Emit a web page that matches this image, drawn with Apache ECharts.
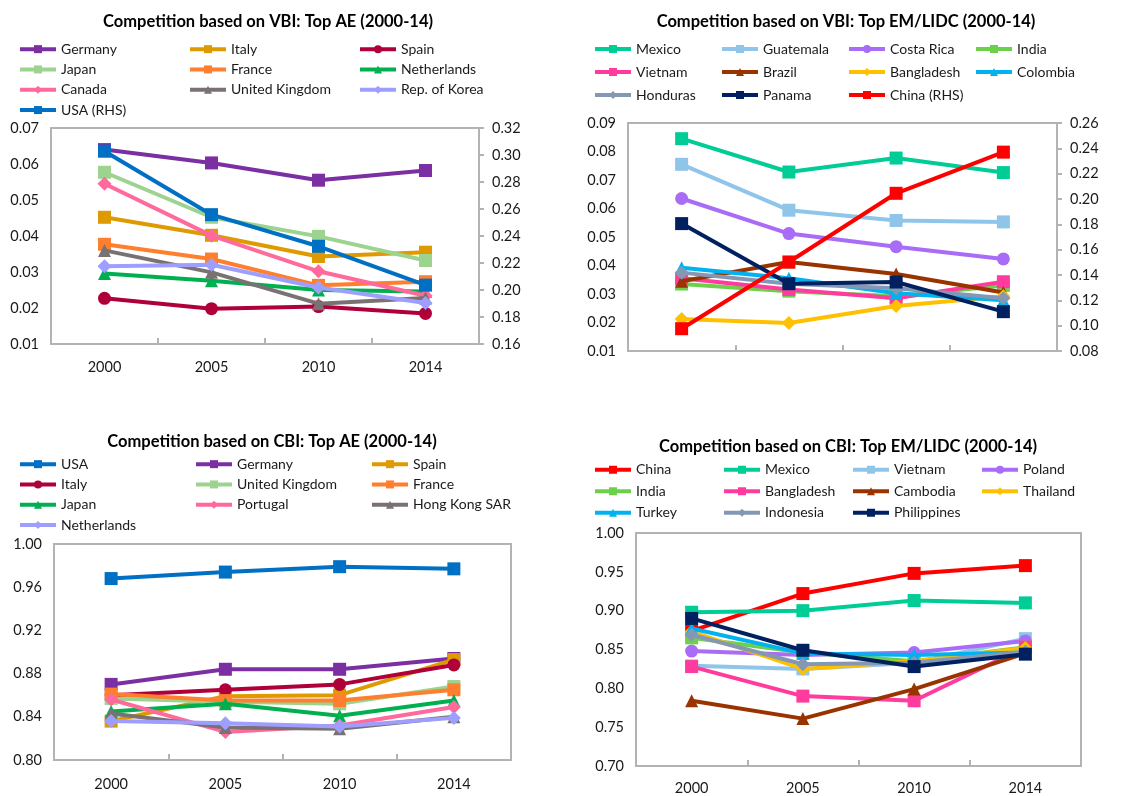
<!DOCTYPE html>
<html>
<head>
<meta charset="utf-8">
<script src="https://cdn.jsdelivr.net/npm/echarts@6/dist/echarts.min.js"></script>
<style>
  html, body { margin: 0; padding: 0; background: #fff; }
  #wrap { position: relative; width: 1144px; height: 796px; }
  .panel { position: absolute; }
</style>
</head>
<body>
<div id="wrap">
  <div id="p1" class="panel" style="left:0;top:0;width:572px;height:405px"></div>
  <div id="p2" class="panel" style="left:572px;top:0;width:572px;height:405px"></div>
  <div id="p3" class="panel" style="left:0;top:405px;width:572px;height:391px"></div>
  <div id="p4" class="panel" style="left:572px;top:405px;width:572px;height:391px"></div>
</div>
<script>
const years = ['2000', '2005', '2010', '2014'];

// VBI, top advanced economies (USA on the right-hand axis)
const vbiAeNames = ['Germany', 'Italy', 'Spain', 'Japan', 'France', 'Netherlands', 'Canada', 'United Kingdom', 'Rep. of Korea', 'USA (RHS)'];
const vbiAeValues = [
  [0.0640, 0.0603, 0.0555, 0.0582],
  [0.0452, 0.0402, 0.0343, 0.0355],
  [0.0227, 0.0198, 0.0204, 0.0185],
  [0.0577, 0.0452, 0.0399, 0.0332],
  [0.0377, 0.0336, 0.0263, 0.0273],
  [0.0296, 0.0276, 0.0250, 0.0246],
  [0.0545, 0.0401, 0.0302, 0.0234],
  [0.0360, 0.0299, 0.0212, 0.0228],
  [0.0316, 0.0320, 0.0257, 0.0214],
  [0.3028, 0.2558, 0.2324, 0.2036]
];
const vbiAeRhs = ['USA (RHS)'];

// VBI, top emerging / low-income economies (China on the right-hand axis)
const vbiEmNames = ['Mexico', 'Guatemala', 'Costa Rica', 'India', 'Vietnam', 'Brazil', 'Bangladesh', 'Colombia', 'Honduras', 'Panama', 'China (RHS)'];
const vbiEmValues = [
  [0.0845, 0.0728, 0.0777, 0.0726],
  [0.0755, 0.0594, 0.0558, 0.0553],
  [0.0635, 0.0512, 0.0466, 0.0423],
  [0.0335, 0.0310, 0.0292, 0.0330],
  [0.0355, 0.0316, 0.0285, 0.0343],
  [0.0345, 0.0412, 0.0370, 0.0305],
  [0.0212, 0.0198, 0.0258, 0.0292],
  [0.0392, 0.0355, 0.0303, 0.0278],
  [0.0375, 0.0336, 0.0320, 0.0285],
  [0.0547, 0.0336, 0.0342, 0.0238],
  [0.0976, 0.1503, 0.2045, 0.2370]
];
const vbiEmRhs = ['China (RHS)'];

// CBI, top advanced economies
const cbiAeNames = ['USA', 'Germany', 'Spain', 'Italy', 'United Kingdom', 'France', 'Japan', 'Portugal', 'Hong Kong SAR', 'Netherlands'];
const cbiAeValues = [
  [0.968, 0.974, 0.979, 0.977],
  [0.870, 0.884, 0.884, 0.894],
  [0.836, 0.859, 0.860, 0.893],
  [0.860, 0.865, 0.870, 0.888],
  [0.857, 0.854, 0.852, 0.868],
  [0.861, 0.855, 0.855, 0.865],
  [0.845, 0.852, 0.841, 0.855],
  [0.856, 0.826, 0.832, 0.849],
  [0.843, 0.830, 0.829, 0.840],
  [0.836, 0.834, 0.831, 0.839]
];

// CBI, top emerging / low-income economies
const cbiEmNames = ['China', 'Mexico', 'Vietnam', 'Poland', 'India', 'Bangladesh', 'Cambodia', 'Thailand', 'Turkey', 'Indonesia', 'Philippines'];
const cbiEmValues = [
  [0.874, 0.922, 0.948, 0.958],
  [0.898, 0.900, 0.913, 0.910],
  [0.829, 0.825, 0.833, 0.864],
  [0.848, 0.843, 0.846, 0.861],
  [0.865, 0.846, 0.835, 0.853],
  [0.828, 0.790, 0.784, 0.853],
  [0.784, 0.761, 0.799, 0.845],
  [0.873, 0.825, 0.835, 0.852],
  [0.877, 0.845, 0.843, 0.846],
  [0.869, 0.831, 0.833, 0.847],
  [0.890, 0.849, 0.828, 0.844]
];

// line colours and marker shapes for each panel
const vbiAeColors = ['#7B2FA2', '#DE9A00', '#B0003A', '#9BD38F', '#FF7F2E', '#00B050', '#FF6A9C', '#7A7272', '#9E9EFF', '#0070C4'];
const vbiAeSymbols = ['rect', 'rect', 'circle', 'rect', 'rect', 'triangle', 'diamond', 'triangle', 'diamond', 'rect'];
const vbiEmColors = ['#00CC96', '#90C5EA', '#A96CF6', '#6CD04A', '#FF3C9E', '#993300', '#FFC000', '#00B2F0', '#8498B4', '#00205F', '#FF0000'];
const vbiEmSymbols = ['rect', 'rect', 'circle', 'rect', 'rect', 'triangle', 'diamond', 'triangle', 'diamond', 'rect', 'rect'];
const cbiAeColors = ['#0070C4', '#7B2FA2', '#DE9A00', '#B0003A', '#9BD38F', '#FF7F2E', '#00B050', '#FF6A9C', '#7A7272', '#9E9EFF'];
const cbiAeSymbols = ['rect', 'rect', 'rect', 'circle', 'rect', 'rect', 'triangle', 'diamond', 'triangle', 'diamond'];
const cbiEmColors = ['#FF0000', '#00CC96', '#90C5EA', '#A96CF6', '#6CD04A', '#FF3C9E', '#993300', '#FFC000', '#00B2F0', '#8498B4', '#00205F'];
const cbiEmSymbols = ['rect', 'rect', 'rect', 'circle', 'rect', 'rect', 'triangle', 'diamond', 'triangle', 'diamond', 'rect'];

const FONT = 'Lato, "Open Sans", sans-serif';
const AXIS_GREY = '#B3B3B3';
const fmt2 = v => v.toFixed(2);

function symbolSize(s) {
  return s === 'diamond' ? 14 : 13;
}

function valueAxis(min, max, interval, side) {
  return {
    type: 'value', position: side, min: min, max: max, interval: interval,
    splitLine: { show: false },
    axisLine: { show: true, lineStyle: { color: AXIS_GREY, width: 2 } },
    axisTick: { show: side === 'right', length: 5, lineStyle: { color: AXIS_GREY, width: 2 } },
    axisLabel: { formatter: fmt2, fontFamily: FONT, fontSize: 14.5, color: '#1a1a1a', margin: side === 'right' ? 13 : 12 }
  };
}

function buildPanel(el, p) {
  const chart = echarts.init(document.getElementById(el), null, { renderer: 'canvas' });
  const series = p.names.map((name, i) => ({
    name: name,
    type: 'line',
    yAxisIndex: p.rhs && p.rhs.indexOf(name) >= 0 ? 1 : 0,
    data: p.values[i],
    symbol: p.symbols[i],
    symbolSize: symbolSize(p.symbols[i]),
    showAllSymbol: true,
    lineStyle: { width: 4, color: p.colors[i] },
    itemStyle: { color: p.colors[i], borderWidth: 0 },
    emphasis: { disabled: true },
    z: 2 + i
  }));
  const yAxes = [valueAxis(p.left[0], p.left[1], p.left[2], 'left')];
  if (p.right) yAxes.push(valueAxis(p.right[0], p.right[1], p.right[2], 'right'));
  chart.setOption({
    animation: false,
    graphic: [{
      type: 'text', x: p.titleX, y: p.titleY,
      style: { text: p.title, font: 'bold 16.5px ' + FONT, fill: '#000', align: 'center', verticalAlign: 'middle' }
    }],
    legend: {
      left: p.legendLeft, top: p.legendTop, width: p.legendWidth, padding: 0,
      itemWidth: 36, itemHeight: 10, itemGap: 6,
      lineStyle: { width: 4 },
      textStyle: { fontFamily: FONT, fontSize: 14, color: '#1a1a1a', width: p.legendText, lineHeight: p.legendRow },
      data: p.names
    },
    grid: {
      left: p.grid[0], top: p.grid[1], width: p.grid[2], height: p.grid[3],
      show: true, borderColor: AXIS_GREY, borderWidth: 2, containLabel: false
    },
    xAxis: {
      type: 'category', data: years, boundaryGap: true,
      axisLine: { show: true, lineStyle: { color: AXIS_GREY, width: 2 } },
      axisTick: { show: true, inside: true, length: 6, alignWithLabel: false, lineStyle: { color: AXIS_GREY, width: 2 } },
      axisLabel: { show: p.xLabels, fontFamily: FONT, fontSize: 14.5, color: '#1a1a1a', margin: p.xMargin }
    },
    yAxis: yAxes,
    series: series
  });
}

buildPanel('p1', {
  title: 'Competition based on VBI: Top AE (2000-14)', titleX: 268, titleY: 22,
  names: vbiAeNames, values: vbiAeValues, colors: vbiAeColors, symbols: vbiAeSymbols, rhs: vbiAeRhs,
  legendLeft: 18, legendTop: 42, legendWidth: 540, legendText: 121, legendRow: 14.3,
  grid: [51, 128, 428, 216], left: [0.01, 0.07, 0.01], right: [0.16, 0.32, 0.02],
  xLabels: true, xMargin: 16
});

buildPanel('p2', {
  title: 'Competition based on VBI: Top EM/LIDC (2000-14)', titleX: 274, titleY: 22,
  names: vbiEmNames, values: vbiEmValues, colors: vbiEmColors, symbols: vbiEmSymbols, rhs: vbiEmRhs,
  legendLeft: 21, legendTop: 40.5, legendWidth: 540, legendText: 78, legendRow: 17,
  grid: [56, 123, 429, 228], left: [0.01, 0.09, 0.01], right: [0.08, 0.26, 0.02],
  xLabels: false, xMargin: 16
});

buildPanel('p3', {
  title: 'Competition based on CBI: Top AE (2000-14)', titleX: 272, titleY: 37,
  names: cbiAeNames, values: cbiAeValues, colors: cbiAeColors, symbols: cbiAeSymbols,
  legendLeft: 18, legendTop: 52, legendWidth: 550, legendText: 127, legendRow: 14.3,
  grid: [54, 139, 457, 216], left: [0.80, 1.00, 0.04],
  xLabels: true, xMargin: 17
});

buildPanel('p4', {
  title: 'Competition based on CBI: Top EM/LIDC (2000-14)', titleX: 276, titleY: 42,
  names: cbiEmNames, values: cbiEmValues, colors: cbiEmColors, symbols: cbiEmSymbols,
  legendLeft: 21, legendTop: 57, legendWidth: 545, legendText: 80, legendRow: 15.5,
  grid: [64, 128, 445, 235], left: [0.70, 1.00, 0.05],
  xLabels: true, xMargin: 15
});
</script>
</body>
</html>
